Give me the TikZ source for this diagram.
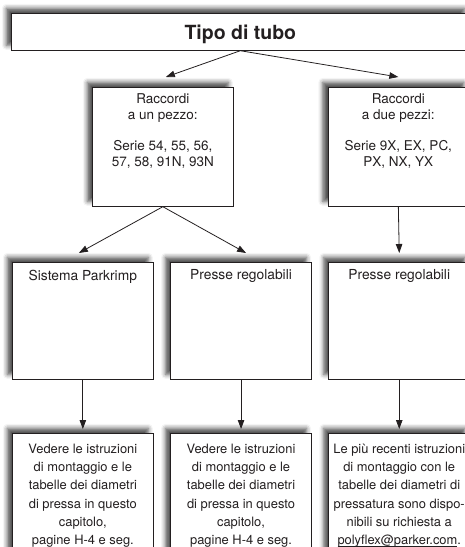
\documentclass[tikz,border=0pt]{standalone}
\usepackage{fontspec}
\setmainfont{TeX Gyre Heros}
\usetikzlibrary{arrows.meta,positioning,shadows.blur}
\definecolor{ink}{HTML}{231F20}
\newcommand\ulink[1]{\setbox0\hbox{#1}\rlap{\rule[-1.8pt]{\wd0}{0.6pt}}\box0}

\begin{document}
\begin{tikzpicture}[x=1pt, y=1pt, >={Triangle[length=9pt,width=6.5pt]}, color=ink,
  box/.style={draw=ink, fill=white, line width=0.7pt, minimum width=141pt, inner sep=0pt, anchor=north west,
    blur shadow={shadow xshift=-5pt, shadow yshift=5pt, shadow blur radius=4.5pt, shadow opacity=70}},
  txt/.style={align=center, inner sep=0pt, anchor=north},
  arr/.style={->, line width=0.8pt}]
\useasboundingbox (0,0) rectangle (465,-547);
\clip (0,0) rectangle (465,-547);
% boxes
\node[box, minimum width=458pt, minimum height=37pt, text depth=0pt,
  font=\fontsize{19.5}{22}\selectfont\bfseries] (tipo) at (11,-13) {Tipo di tubo};
\node[box, minimum height=119pt] (r1) at (92,-87) {};
\node[box, minimum height=119pt] (r2) at (327.5,-87) {};
\node[box, minimum height=117pt] (s1) at (12,-262) {};
\node[box, minimum height=117pt, right=16.5pt of s1] (s2) {};
\node[box, minimum height=117pt, right=16.5pt of s2] (s3) {};
\node[box, minimum height=130pt] (v1) at (12,-433) {};
\node[box, minimum height=130pt, right=16.5pt of v1] (v2) {};
\node[box, minimum height=130pt, right=16.5pt of v2] (v3) {};
% texts
\node[txt, below=6.8pt of r1.north, font=\fontsize{13.5}{15.7}\selectfont] (r1t)
  {Raccordi\\ a un pezzo:\\[15.7pt] Serie 54, 55, 56,\\ 57, 58, 91N, 93N};
\node[txt, below=6.8pt of r2.north, font=\fontsize{13.5}{15.7}\selectfont] (r2t)
  {Raccordi\\ a due pezzi:\\[15.7pt] Serie 9X, EX, PC,\\ PX, NX, YX};
\node[txt, below=7.5pt of s1.north, font=\fontsize{13.8}{16}\selectfont] (s1t) {Sistema Parkrimp};
\node[txt, below=7.5pt of s2.north, font=\fontsize{13.8}{16}\selectfont] (s2t) {Presse regolabili};
\node[txt, below=7.5pt of s3.north, font=\fontsize{13.8}{16}\selectfont] (s3t) {Presse regolabili};
\node[txt, below=10.5pt of v1.north, font=\fontsize{12.9}{18.3}\selectfont] (v1t)
  {Vedere le istruzioni\\ di montaggio e le\\ tabelle dei diametri\\ di pressa in questo\\ capitolo,\\ pagine H-4 e seg.};
\node[txt, below=10.5pt of v2.north, font=\fontsize{12.9}{18.3}\selectfont] (v2t)
  {Vedere le istruzioni\\ di montaggio e le\\ tabelle dei diametri\\ di pressa in questo\\ capitolo,\\ pagine H-4 e seg.};
\node[txt, below=10.5pt of v3.north, font=\fontsize{12.9}{18.3}\selectfont] (v3t)
  {Le più recenti istruzioni\\ di montaggio con le\\ tabelle dei diametri di\\ pressatura sono dispo-\\ nibili su richiesta a\\ \ulink{polyflex@parker.com}.};
% arrow ends
\coordinate[above=10pt of r1.north, xshift=3pt] (r1in);
\coordinate[above=10pt of r2.north] (r2in);
\coordinate[above=9pt of s1.north, xshift=-4pt] (s1in);
\coordinate[above=9pt of s2.north, xshift=5pt] (s2in);
\coordinate[above=9pt of s3.north] (s3in);
\coordinate[above=4pt of v1.north] (v1in);
\coordinate[above=4pt of v2.north] (v2in);
\coordinate[above=4pt of v3.north] (v3in);
\draw[arr] (tipo.south) -- (r1in);
\draw[arr] (tipo.south) -- (r2in);
\draw[arr] (r1.south) -- (s1in);
\draw[arr] (r1.south) -- (s2in);
\draw[arr] (r2.south) -- (s3in);
\draw[arr] (s1.south) -- (v1in);
\draw[arr] (s2.south) -- (v2in);
\draw[arr] (s3.south) -- (v3in);
\end{tikzpicture}
\end{document}
